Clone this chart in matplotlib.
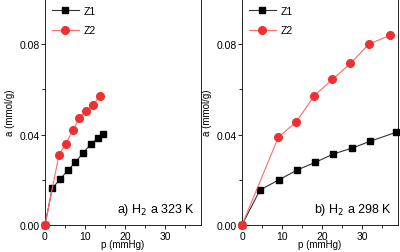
import matplotlib
matplotlib.use("Agg")
import matplotlib.pyplot as plt
from matplotlib.ticker import MultipleLocator

plt.rcParams['font.family'] = ['Liberation Sans', 'DejaVu Sans']

# 323 K
p_z1_323 = [0, 1.8, 3.8, 5.75, 7.6, 9.6, 11.4, 13.2, 14.6]
a_z1_323 = [0, 0.0162, 0.0203, 0.0243, 0.0278, 0.032, 0.0357, 0.0385, 0.0404]
p_z2_323 = [0, 3.5, 5.2, 7.0, 8.6, 10.3, 12.1, 13.7]
a_z2_323 = [0, 0.031, 0.036, 0.042, 0.0473, 0.0505, 0.0532, 0.0572]

# 298 K
p_z1_298 = [0, 4.5, 9.15, 13.75, 18.3, 22.8, 27.5, 32.1, 38.5]
a_z1_298 = [0, 0.0155, 0.0199, 0.0243, 0.0277, 0.0314, 0.034, 0.0371, 0.041]
p_z2_298 = [0, 9.1, 13.6, 18.1, 22.6, 27.1, 31.7, 37.1]
a_z2_298 = [0, 0.0389, 0.0457, 0.0573, 0.0644, 0.0715, 0.08, 0.084]

panels = [
    (p_z1_323, a_z1_323, p_z2_323, a_z2_323, "a) H$_2$ a 323 K"),
    (p_z1_298, a_z1_298, p_z2_298, a_z2_298, "b) H$_2$ a 298 K"),
]

fig = plt.figure(figsize=(4.0, 2.53), dpi=100)
W, H = 400, 253
boxes = [(45, 201), (242, 398)]

for (x0, x1), (p1, a1, p2, a2, txt) in zip(boxes, panels):
    ax = fig.add_axes([x0 / W, (H - 226) / H, (x1 - x0) / W, 226 / H])
    ax.plot(p1, a1, '-s', color='#333333', mfc='black', mec='black', lw=0.8, ms=5,
            label='Z1', clip_on=False, zorder=3)
    ax.plot(p2, a2, '-o', color='#ff6a6a', mfc='#ee3030', mec='#ee3030', lw=0.8, ms=5.5,
            label='Z2', clip_on=False, zorder=3)
    ax.set_xlim(0, 39)
    ax.set_ylim(0, 0.1)
    ax.xaxis.set_major_locator(MultipleLocator(10))
    ax.xaxis.set_minor_locator(MultipleLocator(5))
    ax.yaxis.set_major_locator(MultipleLocator(0.04))
    ax.yaxis.set_minor_locator(MultipleLocator(0.02))
    ax.yaxis.set_major_formatter(plt.FormatStrFormatter('%.2f'))
    ax.tick_params(which='both', direction='out', labelsize=7.5, width=0.6, pad=1)
    ax.tick_params(which='major', length=3)
    ax.tick_params(which='minor', length=2)
    for s in ax.spines.values():
        s.set_linewidth(0.6)
    ax.set_xlabel("p (mmHg)", fontsize=7, labelpad=-1)
    ax.set_ylabel("a (mmol/g)", fontsize=7, labelpad=3)
    ax.text(0.96, 0.035, txt, transform=ax.transAxes, ha='right', va='bottom', fontsize=9)
    ax.legend(loc='upper left', frameon=False, fontsize=7.5, handlelength=2.6,
              borderaxespad=0.25, labelspacing=0.9, handletextpad=0.5)

fig.savefig("out.png", dpi=100)
